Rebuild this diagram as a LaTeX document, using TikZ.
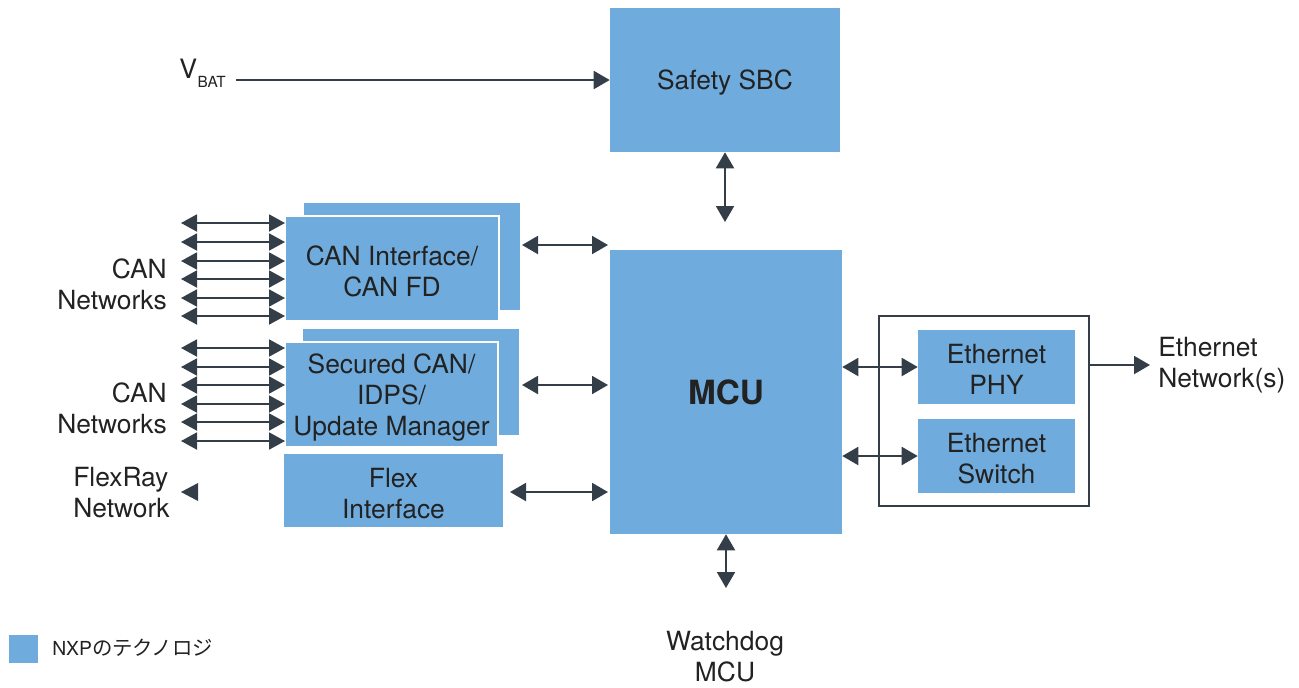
\documentclass[tikz,border=0pt]{standalone}
\usepackage{fontspec}
\setmainfont{TeX Gyre Heros}
\newfontfamily\cjk{Noto Sans CJK JP}
\usetikzlibrary{arrows.meta}
\definecolor{boxblue}{HTML}{6FACDD}
\definecolor{arrcol}{HTML}{333E48}
\definecolor{txtcol}{HTML}{222222}
\tikzset{
  box/.style={fill=boxblue, draw=none, inner sep=0pt},
  frontbox/.style={fill=boxblue, draw=white, line width=1.5pt, inner sep=0pt},
  lbl/.style={text=txtcol, font=\fontsize{19.8}{23.25}\selectfont, align=center, inner sep=0pt},
  inlbl/.style={lbl, yshift=-2pt},
  darr/.style={draw=arrcol, line width=1.5pt, {Triangle[length=12pt,width=13.5pt]}-{Triangle[length=12pt,width=13.5pt]}},
  sarr/.style={draw=arrcol, line width=1.5pt, -{Triangle[length=12pt,width=13.5pt]}},
  canarr/.style={draw=arrcol, line width=1.4pt, {Triangle[length=12pt,width=12.75pt]}-{Triangle[length=12pt,width=12.75pt]}},
}
\begin{document}
\begin{tikzpicture}[x=0.75pt,y=-0.75pt]
\useasboundingbox (0,0) rectangle (1299,687);
% boxes
\node[box, minimum width=172.5pt, minimum height=108pt] (sbc) at (725,80) {};
\node[inlbl] at (sbc.center) {Safety SBC};
\node[box, minimum width=174pt, minimum height=213pt] (mcu) at (726,392) {};
\node[lbl, font=\fontsize{25}{30}\selectfont\bfseries] at (mcu.center) {MCU};
\node[box, minimum width=162pt, minimum height=80.25pt] (canback) at (412,256.5) {};
\node[frontbox, minimum width=160.5pt, minimum height=78.75pt] (canfront) at (392,268.5) {};
\node[inlbl] at (canfront.center) {CAN Interface/\\CAN FD};
\node[box, minimum width=162pt, minimum height=79.5pt] (secback) at (411,382) {};
\node[frontbox, minimum width=159.75pt, minimum height=78.75pt] (secfront) at (391.5,394.5) {};
\node[inlbl] at (secfront.center) {Secured CAN/\\IDPS/\\Update Manager};
\node[box, minimum width=164.25pt, minimum height=54.75pt] (flex) at (393.5,490.5) {};
\node[inlbl] at (flex.center) {Flex\\Interface};
\node[draw=arrcol, line width=1.5pt, fill=none, inner sep=0pt, minimum width=157.5pt, minimum height=142.5pt] (ethbox) at (984,411) {};
\node[box, minimum width=117.75pt, minimum height=55.5pt] (phy) at (996.5,367) {};
\node[inlbl] at (phy.center) {Ethernet\\PHY};
\node[box, minimum width=117.75pt, minimum height=55.5pt] (sw) at (996.5,456) {};
\node[inlbl] at (sw.center) {Ethernet\\Switch};
% outside labels
\node[text=txtcol, font=\fontsize{20}{23}\selectfont, anchor=base west, inner sep=0pt] (vbat) at (179,78) {V\kern0.5pt\raisebox{-6.75pt}{\fontsize{11.5}{13}\selectfont BAT}};
\node[lbl, align=right, anchor=east] (can1) at (167,284) {CAN\\Networks};
\node[lbl, align=right, anchor=east] (can2) at (167,408) {CAN\\Networks};
\node[lbl, align=left, anchor=west] (flexnet) at (73,493) {FlexRay\\Network};
\node[lbl, align=left, anchor=west] (ethnet) at (1158,365) {Ethernet\\Network(s)};
\node[lbl] (wd) at (725,657) {Watchdog\\MCU};
\node[box, minimum width=21.75pt, minimum height=21pt] (leg) at (23.5,649) {};
\node[text=txtcol, font=\fontsize{14.5}{17}\selectfont, anchor=west, inner sep=0pt] (legt) at (52,648) {NXP{\cjk\fontsize{15.3}{17}\selectfont のテクノロジ}};
% coordinates
\coordinate (vstart) at (236,80);
\coordinate (sbcm) at (725,222);
\coordinate (ca) at (522,245);
\coordinate (cb) at (608,245);
\coordinate (sa) at (522,385);
\coordinate (sb) at (608,385);
\coordinate (fa) at (510,492);
\coordinate (fb) at (608,492);
\coordinate (wdtip) at (726,588);
\coordinate (enet) at (1150,365);
% connectors
\draw[sarr] (vstart) -- (sbc.west);
\draw[darr] (sbc.south) -- (sbcm);
\draw[darr] (ca) -- (cb);
\draw[darr] (sa) -- (sb);
\draw[darr] (fa) -- (fb);
\draw[darr] (mcu.south) -- (wdtip);
\draw[darr] (mcu.east |- phy.west) -- (phy.west);
\draw[darr] (mcu.east |- sw.west) -- (sw.west);
\draw[sarr] (ethbox.east |- enet) -- (enet);
\foreach \y [count=\i] in {223,242,261,279,298,316} {
  \coordinate (cl\i) at (181,\y);
  \coordinate (cr\i) at (285,\y);
  \draw[canarr] (cl\i) -- (cr\i);
}
\foreach \y [count=\i] in {348,367,385,404,422,441} {
  \coordinate (dl\i) at (181,\y);
  \coordinate (dr\i) at (285,\y);
  \draw[canarr] (dl\i) -- (dr\i);
}
\fill[arrcol] (181,492) -- (198,483) -- (198,501) -- cycle;
\end{tikzpicture}
\end{document}
